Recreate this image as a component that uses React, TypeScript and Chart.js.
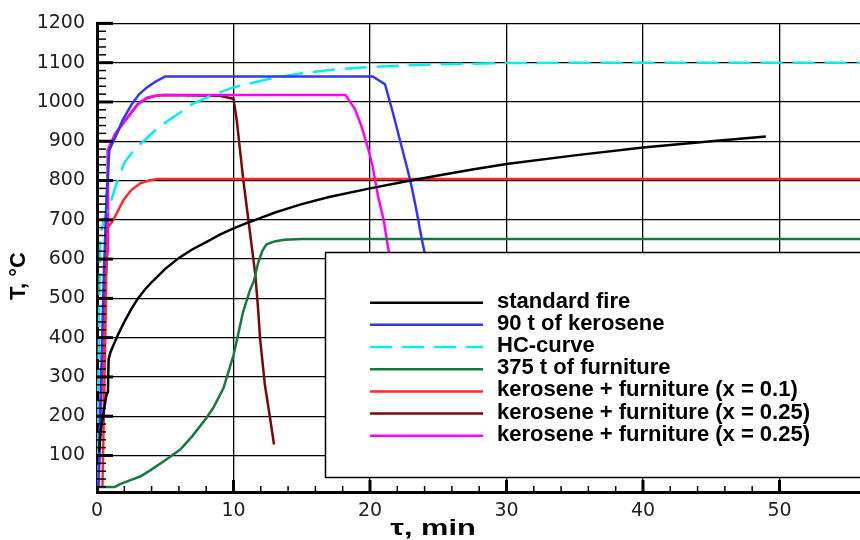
import React, { useEffect, useRef } from "react";
import { Chart, registerables } from "chart.js";

Chart.register(...registerables);

// ---- tick labels ----
const X_TICKS = [0, 10, 20, 30, 40, 50];
const Y_TICKS = [100, 200, 300, 400, 500, 600, 700, 800, 900, 1000, 1100, 1200];
const X_MIN = 0;
const X_MAX = 55.9;
const Y_MIN = 7;
const Y_MAX = 1200;

// ---- series (time in min, temperature in °C) ----
const SERIES_LABELS = [
  "standard fire",
  "90 t of kerosene",
  "HC-curve",
  "375 t of furniture",
  "kerosene + furniture (x = 0.1)",
  "kerosene + furniture (x = 0.25)",
  "kerosene + furniture (x = 0.25)",
];
const SERIES_COLORS = ["#000000", "#3333ff", "#00f0f0", "#157a3c", "#ff2a2a", "#7a0606", "#ff00ff"];

const standardT = [0.15, 0.3, 0.5, 0.7, 0.8, 0.85, 1, 1.5, 2, 2.5, 3, 3.5, 4, 5, 6, 7, 8, 9, 10, 11, 12, 13, 14, 15, 17, 20, 22.5, 25, 27.5, 30, 35, 40, 45, 49];
const standardY = [110, 170, 215, 255, 262, 345, 364, 405, 440, 472, 500, 522, 541, 575, 603, 625, 643, 662, 678, 692, 705, 718, 729, 740, 758, 780, 797, 813, 828, 842, 864, 884, 900, 912];

const keroseneT = [0.1, 0.3, 0.5, 0.7, 0.9, 1.46, 1.87, 2.56, 3.1, 3.66, 4.3, 5, 20.2, 21.1, 21.7, 22.2, 22.7, 23.05, 23.4, 23.8, 24.1];
const keroseneY = [20, 300, 560, 760, 877, 919, 953, 995, 1020, 1037, 1052, 1065, 1065, 1045, 970, 902, 835, 785, 725, 650, 600];

const hcT = [0, 0.1, 0.24, 0.5, 1, 1.5, 2, 2.7, 3.4, 4.4, 5.4, 7, 8.5, 10, 12.5, 15, 17.5, 20, 22.5, 25, 30, 35, 55.9];
const hcY = [20, 300, 660, 700, 745, 800, 845, 877, 900, 932, 957, 995, 1018, 1037, 1058, 1073, 1083, 1089, 1093, 1096, 1099, 1100, 1100];

const furnitureT = [0.1, 1.3, 1.7, 2.5, 3.2, 3.9, 5, 6.1, 7, 8, 8.5, 9.26, 10, 10.7, 11.2, 11.5, 11.8, 12.1, 12.4, 13, 13.7, 15, 55.9];
const furnitureY = [20, 20, 27, 38, 47, 62, 88, 115, 150, 195, 220, 271, 355, 465, 520, 545, 590, 620, 637, 645, 649, 651, 651];

const mix01T = [0.4, 0.65, 0.7, 1.2, 1.95, 2.5, 3.17, 3.8, 4.4, 55.9];
const mix01Y = [20, 480, 675, 700, 751, 775, 793, 800, 804, 804];

const mix025aT = [0.1, 0.3, 0.5, 0.65, 0.75, 0.8, 1.34, 2.07, 3.0, 3.66, 4.2, 4.9, 9.0, 10, 10.24, 10.72, 11.09, 11.46, 11.6, 11.82, 11.95, 12.3, 12.68, 12.97];
const mix025aY = [20, 250, 400, 560, 620, 877, 919, 953, 995, 1010, 1015, 1018, 1016, 1008, 953, 801, 700, 599, 560, 465, 397, 280, 195, 128];

const mix025bT = [0.1, 0.3, 0.5, 0.65, 0.75, 0.8, 1.34, 2.07, 3.0, 3.66, 4.2, 4.9, 18.2, 18.9, 19.4, 19.9, 20.2, 20.6, 21, 21.35, 21.5];
const mix025bY = [20, 250, 400, 560, 620, 877, 919, 953, 995, 1010, 1015, 1018, 1018, 982, 936, 877, 835, 759, 700, 624, 590];

const SERIES_T = [standardT, keroseneT, hcT, furnitureT, mix01T, mix025aT, mix025bT];
const SERIES_Y = [standardY, keroseneY, hcY, furnitureY, mix01Y, mix025aY, mix025bY];
const SERIES_DASH: number[][] = [[], [], [22, 10], [], [], [], []];
const SERIES_ORDER = [0, 0, 0, 0, 0, 1, 0];

const X_TITLE = "τ, min";
const Y_TITLE = "T, °C";

const LEGEND_FONT = 'bold 22px "Liberation Sans", Arial, sans-serif';

const decorPlugin = {
  id: "decor",
  beforeDraw(chart: any) {
    const ctx = chart.ctx;
    ctx.save();
    ctx.fillStyle = "#ffffff";
    ctx.fillRect(0, 0, chart.width, chart.height);
    ctx.restore();
  },
  afterDatasetsDraw(chart: any) {
    const ctx = chart.ctx;
    // legend box
    const bx = 325.5;
    const by = 252.5;
    const bw = chart.width - bx + 5;
    const bh = 225;
    ctx.save();
    ctx.fillStyle = "#ffffff";
    ctx.fillRect(bx, by, bw, bh);
    ctx.strokeStyle = "#000";
    ctx.lineWidth = 1.5;
    ctx.strokeRect(bx, by, bw, bh);
    const rowY0 = 302.7;
    const rowH = 22.17;
    SERIES_LABELS.forEach((label, i) => {
      const y = rowY0 + i * rowH;
      ctx.beginPath();
      ctx.strokeStyle = SERIES_COLORS[i];
      ctx.lineWidth = 2.5;
      ctx.setLineDash(SERIES_DASH[i]);
      ctx.moveTo(370, y);
      ctx.lineTo(483, y);
      ctx.stroke();
      ctx.setLineDash([]);
      ctx.fillStyle = "#000";
      ctx.font = LEGEND_FONT;
      ctx.textAlign = "left";
      ctx.textBaseline = "middle";
      ctx.fillText(label, 497, y - 1);
    });
    ctx.restore();
  },
  afterDraw(chart: any) {
    const ctx = chart.ctx;
    const xs = chart.scales.x;
    const ys = chart.scales.y;
    const area = chart.chartArea;
    ctx.save();
    ctx.strokeStyle = "#000";
    // y minor / major ticks (inward)
    for (let v = 20; v <= Y_MAX; v += 20) {
      const y = ys.getPixelForValue(v);
      const major = v % 100 === 0;
      ctx.beginPath();
      ctx.lineWidth = major ? 3 : 1.5;
      ctx.moveTo(area.left, y);
      ctx.lineTo(area.left + (major ? 16 : 9), y);
      ctx.stroke();
    }
    // x minor / major ticks (inward)
    for (let v = 2; v <= 50; v += 2) {
      const x = xs.getPixelForValue(v);
      const major = v % 10 === 0;
      ctx.beginPath();
      ctx.lineWidth = major ? 3 : 1.5;
      ctx.moveTo(x, area.bottom);
      ctx.lineTo(x, area.bottom - (major ? 12 : 6));
      ctx.stroke();
    }
    // axis titles
    ctx.fillStyle = "#000";
    ctx.font = 'bold 22px "Liberation Sans", Arial, sans-serif';
    ctx.textAlign = "center";
    ctx.textBaseline = "alphabetic";
    ctx.save();
    ctx.translate(433, 535);
    ctx.scale(1.4, 1);
    ctx.fillText(X_TITLE, 0, 0);
    ctx.restore();
    ctx.save();
    ctx.translate(19, 276);
    ctx.rotate(-Math.PI / 2);
    ctx.textBaseline = "middle";
    ctx.fillText(Y_TITLE, 0, 0);
    ctx.restore();
    ctx.restore();
  },
};

export default function App() {
  const ref = useRef<HTMLCanvasElement>(null);
  useEffect(() => {
    document.body.style.margin = "0";
    const canvas = ref.current!;
    const datasets = SERIES_LABELS.map((label, i) => ({
      label,
      data: SERIES_T[i].map((t, j) => ({ x: t, y: SERIES_Y[i][j] })),
      borderColor: SERIES_COLORS[i],
      backgroundColor: SERIES_COLORS[i],
      borderWidth: 2.5,
      borderDash: SERIES_DASH[i],
      pointRadius: 0,
      tension: 0,
      fill: false,
      order: SERIES_ORDER[i],
    }));
    const tickFont = { family: '"DejaVu Sans", sans-serif', size: 19 };
    const plain = (v: any) => String(v);
    const chart = new Chart(canvas, {
      type: "line",
      data: { datasets },
      plugins: [decorPlugin],
      options: {
        animation: false,
        responsive: false,
        devicePixelRatio: 1,
        layout: { padding: { top: 19, right: 0, left: 0, bottom: 0 } },
        plugins: { legend: { display: false }, tooltip: { enabled: false } },
        scales: {
          x: {
            type: "linear",
            min: X_MIN,
            max: X_MAX,
            afterBuildTicks: (s: any) => {
              s.ticks = X_TICKS.map((v) => ({ value: v }));
            },
            afterFit: (s: any) => {
              s.height = 48;
            },
            grid: { color: "#000", lineWidth: 1.3, drawTicks: false },
            border: { color: "#000", width: 3 },
            ticks: { font: tickFont, color: "#222", padding: 8, maxRotation: 0, autoSkip: false, callback: plain },
          },
          y: {
            type: "linear",
            min: Y_MIN,
            max: Y_MAX,
            afterBuildTicks: (s: any) => {
              s.ticks = Y_TICKS.map((v) => ({ value: v }));
            },
            afterFit: (s: any) => {
              s.width = 97;
            },
            grid: { color: "#000", lineWidth: 1.3, drawTicks: false },
            border: { color: "#000", width: 3 },
            ticks: { font: tickFont, color: "#222", padding: 12, autoSkip: false, callback: plain },
          },
        },
      } as any,
    });
    return () => chart.destroy();
  }, []);
  return (
    <div style={{ width: 860, height: 540, background: "#fff" }}>
      <canvas ref={ref} width={860} height={540} style={{ display: "block" }} />
    </div>
  );
}
